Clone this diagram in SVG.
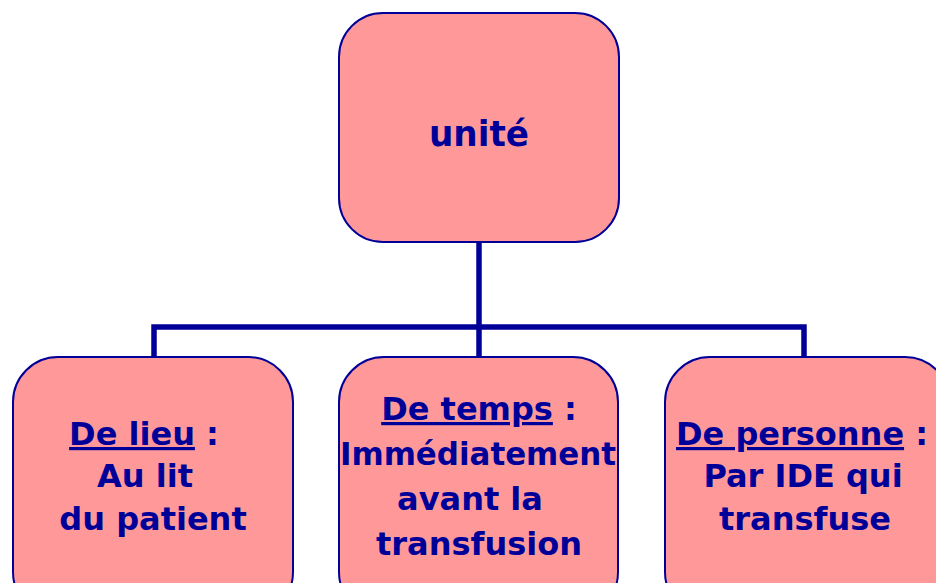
<svg xmlns="http://www.w3.org/2000/svg" width="936" height="583" viewBox="0 0 936 583">
<style>
.node{fill:#FF9999;stroke:#000099;stroke-width:2}
.conn{fill:none;stroke:#000099;stroke-width:5.5;stroke-linejoin:miter}
.t{font-family:"DejaVu Sans","Liberation Sans",sans-serif;font-weight:bold;fill:#000099;text-anchor:middle}
.b{font-size:32px}
.u{text-decoration:underline}
</style>
<rect width="936" height="583" fill="#FFFFFF"/>
<g id="connectors">
<path class="conn" d="M479 242 V327 M154 357 V327 H804 V357 M479 327 V357"/>
</g>
<g id="node-unite">
<rect class="node" x="339" y="13" width="280" height="229" rx="44" ry="44"/>
<text class="t" x="479" y="146" font-size="36" textLength="100" lengthAdjust="spacingAndGlyphs">unité</text>
</g>
<g id="node-lieu">
<rect class="node" x="13" y="357" width="280" height="260" rx="45" ry="45"/>
<text class="t b" x="144" y="445"><tspan class="u">De lieu</tspan> :</text>
<text class="t b" x="145" y="487">Au lit</text>
<text class="t b" x="153" y="530">du patient</text>
</g>
<g id="node-temps">
<rect class="node" x="339" y="357" width="279" height="260" rx="45" ry="45"/>
<text class="t b" x="479" y="420"><tspan class="u">De temps</tspan> :</text>
<text class="t b" x="478" y="465" textLength="276" lengthAdjust="spacingAndGlyphs">Immédiatement</text>
<text class="t b" x="470" y="510">avant la</text>
<text class="t b" x="479" y="555">transfusion</text>
</g>
<g id="node-personne">
<rect class="node" x="665" y="357" width="285" height="260" rx="45" ry="45"/>
<text class="t b" x="802" y="445"><tspan class="u">De personne</tspan> :</text>
<text class="t b" x="803" y="487">Par IDE qui</text>
<text class="t b" x="805" y="530">transfuse</text>
</g>
</svg>
